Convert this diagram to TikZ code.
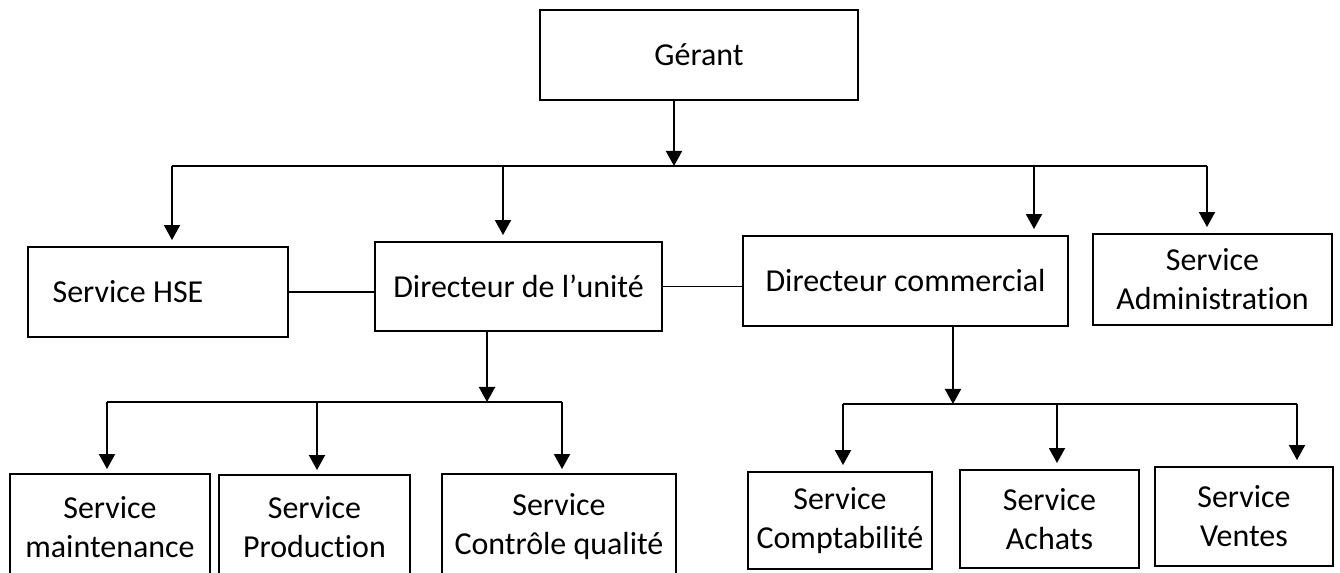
\documentclass[tikz,border=0pt]{standalone}
\usepackage{fontspec}
\setmainfont[Ligatures=NoCommon]{Carlito}
\usetikzlibrary{arrows.meta}
\tikzset{
  unit/.style={draw, line width=1.1pt, align=center, inner sep=0pt, font=\fontsize{18.2}{22.2}\selectfont},
  link/.style={line width=1.1pt},
  arr/.style={line width=1.1pt, -{Triangle[width=0.32cm,length=0.3cm]}},
}
\begin{document}
\begin{tikzpicture}[x=0.02cm, y=-0.02cm]
\useasboundingbox (0,0) rectangle (1340,573);
\clip (0,0) rectangle (1340,573);

% top level
\node[unit, minimum width=6.36cm, minimum height=1.8cm] (gerant) at (699,55) {Gérant};

% second level
\node[unit, minimum width=5.2cm, minimum height=1.8cm] (hse) at (158,292) {Service HSE\hspace*{1.2cm}};
\node[unit, minimum width=5.74cm, minimum height=1.78cm] (unite) at (518.5,286.5) {Directeur de l’unité};
\node[unit, minimum width=6.5cm, minimum height=1.8cm] (comm) at (905.5,281) {Directeur commercial};
\node[unit, minimum width=4.78cm, minimum height=1.82cm] (admin) at (1212.5,279.5) {Service\\Administration};

% third level
\node[unit, minimum width=4cm, minimum height=2.12cm] (maint) at (110,527) {Service\\maintenance};
\node[unit, minimum width=3.82cm, minimum height=2.1cm] (prod) at (314.5,527.5) {Service\\Production};
\node[unit, minimum width=4.68cm, minimum height=2.12cm] (ctrl) at (559,527) {Service\\Contrôle qualité};
\node[unit, minimum width=3.68cm, minimum height=1.94cm] (compta) at (840,520.5) {Service\\Comptabilité};
\node[unit, minimum width=3.58cm, minimum height=1.96cm] (achats) at (1049.5,519) {Service\\Achats};
\node[unit, minimum width=3.56cm, minimum height=1.98cm] (ventes) at (1244,516.5) {Service\\Ventes};

% gerant -> second level
\coordinate (g1) at (674,166);
\draw[arr] (gerant.south -| g1) -- (g1);
\draw[link] (172,166) -- (1207,166);
\foreach \x/\n in {172/hse, 503/unite, 1034/comm, 1207/admin} {
  \coordinate (d-\n) at (\x,166);
  \draw[arr, shorten >=0.12cm] (d-\n) -- (d-\n |- \n.north);
}

\draw[link] (hse.east) -- (hse.east -| unite.west);
\draw[link] (unite.east) -- (unite.east -| comm.west);

% directeur de l'unite -> services
\coordinate (g2) at (487,402);
\draw[arr] (unite.south -| g2) -- (g2);
\draw[link] (107,402) -- (562,402);
\foreach \x/\n in {107/maint, 317/prod, 562/ctrl} {
  \coordinate (d-\n) at (\x,402);
  \draw[arr, shorten >=0.08cm] (d-\n) -- (d-\n |- \n.north);
}

% directeur commercial -> services
\coordinate (g3) at (953,404);
\draw[arr] (comm.south -| g3) -- (g3);
\draw[link] (843,404) -- (1297,404);
\foreach \x/\n in {843/compta, 1057/achats, 1297/ventes} {
  \coordinate (d-\n) at (\x,404);
  \draw[arr, shorten >=0.12cm] (d-\n) -- (d-\n |- \n.north);
}
\end{tikzpicture}
\end{document}
